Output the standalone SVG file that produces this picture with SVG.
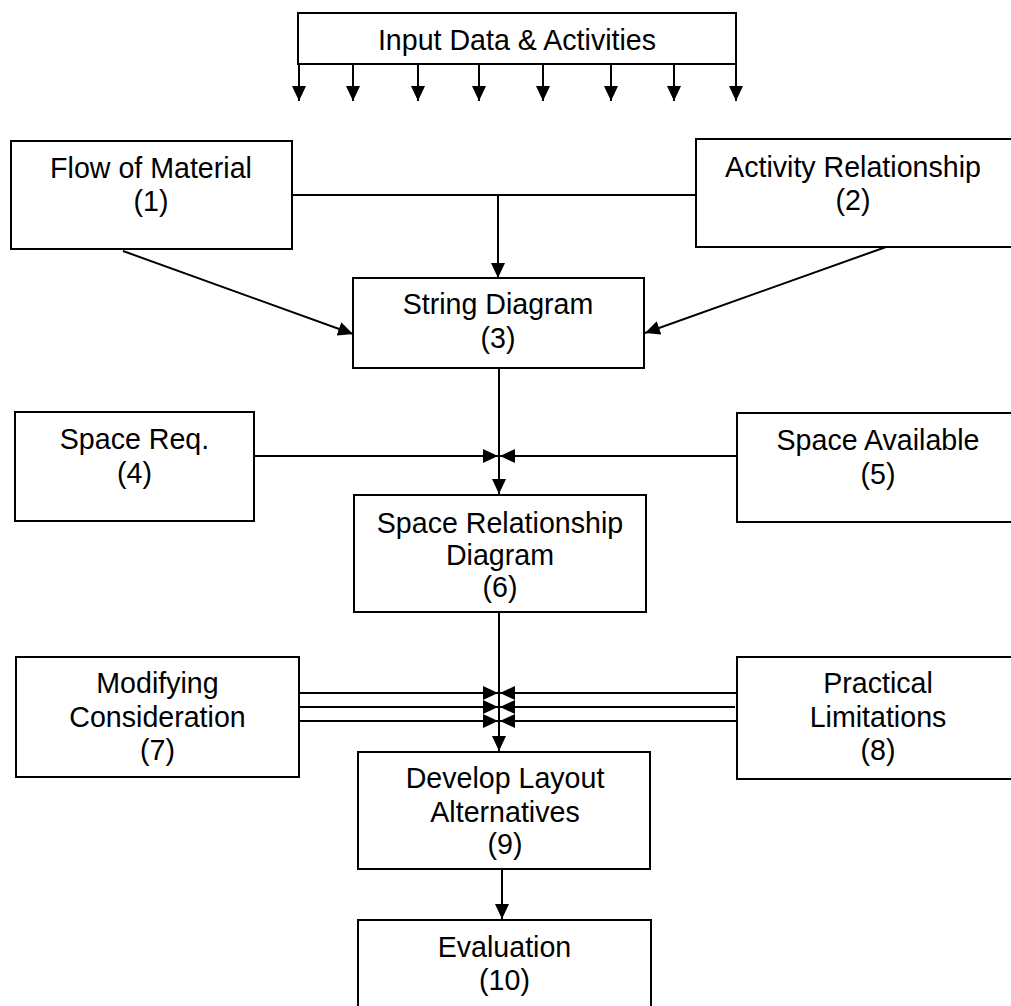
<svg xmlns="http://www.w3.org/2000/svg" width="1011" height="1006" viewBox="0 0 1011 1006">
<defs>
<style>
.box{fill:#fff;stroke:#000;stroke-width:2}
.lbl{font-family:"Liberation Sans",Arial,sans-serif;font-size:28.6px;fill:#000;text-anchor:middle}
.c{fill:none;stroke:#000;stroke-width:2}
.a{marker-end:url(#ah)}
</style>
<marker id="ah" markerUnits="userSpaceOnUse" markerWidth="15" markerHeight="14" refX="15" refY="7" orient="auto">
<path d="M0,0 L15,7 L0,14 z" fill="#000"/>
</marker>
</defs>
<rect width="1011" height="1006" fill="#fff"/>
<g id="input">
<rect class="box" x="298" y="13" width="438" height="51"/>
<text class="lbl" x="517" y="50">Input Data &amp; Activities</text>
</g>
<g id="n1">
<rect class="box" x="11" y="141" width="281" height="108"/>
<text class="lbl" x="151" y="178">Flow of Material</text>
<text class="lbl" x="151" y="211">(1)</text>
</g>
<g id="n2">
<rect class="box" x="696" y="139" width="340" height="108"/>
<text class="lbl" x="853" y="177">Activity Relationship</text>
<text class="lbl" x="853" y="210">(2)</text>
</g>
<g id="n3">
<rect class="box" x="353" y="278" width="291" height="90"/>
<text class="lbl" x="498" y="314">String Diagram</text>
<text class="lbl" x="498" y="348">(3)</text>
</g>
<g id="n4">
<rect class="box" x="15" y="412" width="239" height="109"/>
<text class="lbl" x="134.5" y="449">Space Req.</text>
<text class="lbl" x="134.5" y="483">(4)</text>
</g>
<g id="n5">
<rect class="box" x="737" y="413" width="300" height="109"/>
<text class="lbl" x="878" y="450">Space Available</text>
<text class="lbl" x="878" y="484">(5)</text>
</g>
<g id="n6">
<rect class="box" x="354" y="495" width="292" height="117"/>
<text class="lbl" x="500" y="533">Space Relationship</text>
<text class="lbl" x="500" y="565">Diagram</text>
<text class="lbl" x="500" y="597">(6)</text>
</g>
<g id="n7">
<rect class="box" x="16" y="657" width="283" height="120"/>
<text class="lbl" x="157.5" y="693">Modifying</text>
<text class="lbl" x="157.5" y="727">Consideration</text>
<text class="lbl" x="157.5" y="760">(7)</text>
</g>
<g id="n8">
<rect class="box" x="737" y="657" width="300" height="122"/>
<text class="lbl" x="878" y="693">Practical</text>
<text class="lbl" x="878" y="727">Limitations</text>
<text class="lbl" x="878" y="760">(8)</text>
</g>
<g id="n9">
<rect class="box" x="358" y="752" width="292" height="117"/>
<text class="lbl" x="505" y="788">Develop Layout</text>
<text class="lbl" x="505" y="822">Alternatives</text>
<text class="lbl" x="505" y="854">(9)</text>
</g>
<g id="n10">
<rect class="box" x="358" y="920" width="293" height="100"/>
<text class="lbl" x="504.5" y="957">Evaluation</text>
<text class="lbl" x="504.5" y="990">(10)</text>
</g>
<g id="connectors">
<line class="c a" x1="299" y1="64" x2="299" y2="101"/>
<line class="c a" x1="353" y1="64" x2="353" y2="101"/>
<line class="c a" x1="418" y1="64" x2="418" y2="101"/>
<line class="c a" x1="479" y1="64" x2="479" y2="101"/>
<line class="c a" x1="543" y1="64" x2="543" y2="101"/>
<line class="c a" x1="611" y1="64" x2="611" y2="101"/>
<line class="c a" x1="674" y1="64" x2="674" y2="101"/>
<line class="c a" x1="736" y1="64" x2="736" y2="101"/>
<line class="c" x1="292" y1="195" x2="696" y2="195"/>
<line class="c a" x1="498" y1="195" x2="498" y2="278"/>
<line class="c a" x1="123" y1="251" x2="353" y2="334"/>
<line class="c a" x1="886" y1="247" x2="645" y2="333"/>
<line class="c a" x1="499" y1="368" x2="499" y2="494"/>
<line class="c a" x1="254" y1="456" x2="498" y2="456"/>
<line class="c a" x1="737" y1="456" x2="500" y2="456"/>
<line class="c a" x1="499" y1="612" x2="499" y2="751"/>
<line class="c a" x1="299" y1="693" x2="498" y2="693"/>
<line class="c a" x1="299" y1="707" x2="498" y2="707"/>
<line class="c a" x1="299" y1="721" x2="498" y2="721"/>
<line class="c a" x1="737" y1="693" x2="500" y2="693"/>
<line class="c a" x1="735" y1="707" x2="500" y2="707"/>
<line class="c a" x1="737" y1="721" x2="500" y2="721"/>
<line class="c a" x1="502" y1="869" x2="502" y2="919"/>
</g>
</svg>
